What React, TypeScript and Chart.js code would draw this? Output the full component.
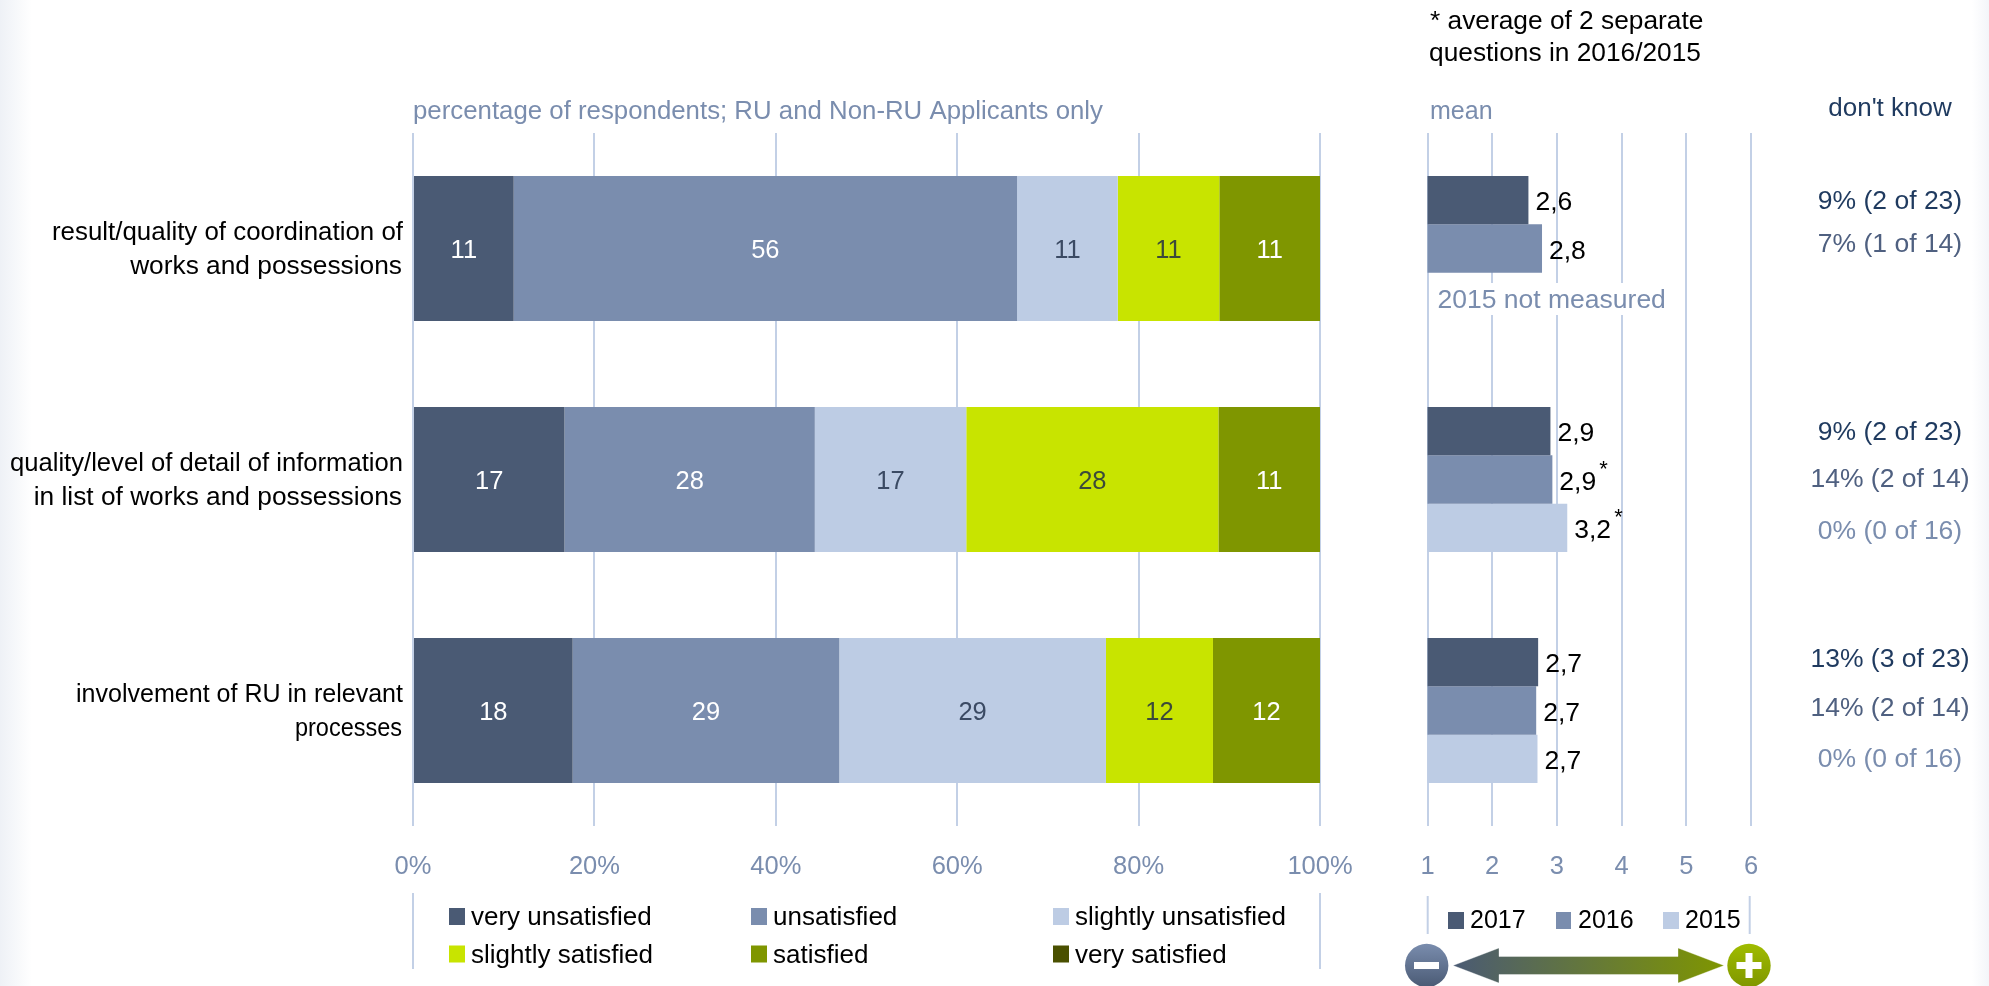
import React, { useEffect, useRef } from "react";
import { Chart, registerables } from "chart.js";

Chart.register(...registerables);

const FONT = '"Liberation Sans", Arial, sans-serif';

const categories = [
  ["result/quality of coordination of", "works and possessions"],
  ["quality/level of detail of information", "in list of works and possessions"],
  ["involvement of RU in relevant", "processes"],
];

const veryUnsatisfied = [11.1, 16.7, 17.6];
const unsatisfied = [55.5, 27.6, 29.4];
const slightlyUnsatisfied = [11.1, 16.7, 29.4];
const slightlySatisfied = [11.2, 27.8, 11.8];
const satisfied = [11.1, 11.2, 11.8];
const verySatisfied = [0, 0, 0];

const mean2017 = [2.56, 2.9, 2.71];
const mean2016 = [2.77, 2.93, 2.68];
const mean2015 = [null, 3.16, 2.7];
const meanLabels2017 = ["2,6", "2,9", "2,7"];
const meanLabels2016 = ["2,8", "2,9*", "2,7"];
const meanLabels2015 = ["", "3,2*", "2,7"];

const dontKnow2017 = ["9% (2 of 23)", "9% (2 of 23)", "13% (3 of 23)"];
const dontKnow2016 = ["7% (1 of 14)", "14% (2 of 14)", "14% (2 of 14)"];
const dontKnow2015 = ["", "0% (0 of 16)", "0% (0 of 16)"];

const percentTicks = [0, 20, 40, 60, 80, 100];
const meanTicks = [1, 2, 3, 4, 5, 6];

const C_DARK = "#4a5a74";
const C_MID = "#7a8dae";
const C_LIGHT = "#bdcce4";
const C_LIME = "#c8e400";
const C_OLIVE = "#7f9600";
const C_DEEP = "#4a5000";
const C_GRID = "#c3d0e6";
const C_NAVY = "#1f3a5f";

const W = 1989;
const H = 986;

function text(ctx: any, s: string, x: number, y: number, opt: any = {}) {
  ctx.save();
  ctx.font = `${opt.size || 26}px ${FONT}`;
  ctx.fillStyle = opt.color || "#000";
  ctx.textAlign = opt.align || "left";
  ctx.textBaseline = "middle";
  if (opt.width) ctx.fillText(s, x, y, opt.width);
  else ctx.fillText(s, x, y);
  ctx.restore();
}

const labelFit = [
  [{ width: 351 }, { size: 26.3 }],
  [{ width: 393 }, { size: 26.3 }],
  [{ width: 327 }, { width: 107 }],
];

const leftDecor = {
  id: "leftDecor",
  afterDatasetsDraw(chart: any) {
    const ctx = chart.ctx;
    chart.data.datasets.forEach((ds: any, di: number) => {
      chart.getDatasetMeta(di).data.forEach((bar: any, i: number) => {
        const v = ds.data[i];
        if (!v) return;
        text(ctx, String(Math.round(v)), (bar.x + bar.base) / 2, bar.y + 2, {
          align: "center",
          color: ds.labelColor,
          size: 25.5,
        });
      });
    });
  },
  afterDraw(chart: any) {
    const ctx = chart.ctx;
    const y = chart.scales.y;
    categories.forEach((lines, i) => {
      const c = y.getPixelForValue(i);
      text(ctx, lines[0], 403, c - 16, { align: "right", ...labelFit[i][0] });
      text(ctx, lines[1], 402, c + 18, { align: "right", ...labelFit[i][1] });
    });
    text(ctx, "percentage of respondents; RU and Non-RU Applicants only", 413, 112, {
      color: C_MID,
      size: 26,
      width: 690,
    });
    ctx.strokeStyle = C_GRID;
    ctx.lineWidth = 2;
    [chart.scales.x.getPixelForValue(0), chart.scales.x.getPixelForValue(100)].forEach((px: number) => {
      ctx.beginPath();
      ctx.moveTo(px, 893);
      ctx.lineTo(px, 969);
      ctx.stroke();
    });
    const cols = [449, 751, 1053];
    const rows = [916.5, 954];
    chart.data.datasets.forEach((ds: any, i: number) => {
      const cx = cols[i % 3];
      const cy = rows[Math.floor(i / 3)];
      ctx.fillStyle = ds.backgroundColor;
      ctx.fillRect(cx, cy - 8.5, 16, 17);
      text(ctx, ds.label, cx + 22, cy + 1.5);
    });
  },
};

const rightDecor = {
  id: "rightDecor",
  afterDatasetsDraw(chart: any) {
    const ctx = chart.ctx;
    ctx.fillStyle = "#fff";
    ctx.fillRect(1437, 283, 234, 32);
    text(ctx, "2015 not measured", 1437.5, 301, { color: C_MID, size: 26.5 });
    chart.data.datasets.forEach((ds: any, di: number) => {
      chart.getDatasetMeta(di).data.forEach((bar: any, i: number) => {
        const raw = ds.valueLabels[i];
        if (!raw) return;
        const star = raw.endsWith("*");
        const s = star ? raw.slice(0, -1) : raw;
        text(ctx, s, bar.x + 7, bar.y + 3, { size: 26.5 });
        if (star) text(ctx, "*", bar.x + 47, bar.y - 10, { size: 22 });
      });
    });
  },
  afterDraw(chart: any) {
    const ctx = chart.ctx;
    const y = chart.scales.y;
    text(ctx, "mean", 1430, 112, { color: C_MID, size: 25 });
    text(ctx, "* average of 2 separate", 1430, 22, { size: 26.3 });
    text(ctx, "questions in 2016/2015", 1429, 54, { size: 26.3 });
    text(ctx, "don't know", 1890, 109, { color: C_NAVY, size: 26, align: "center" });
    const offsets = [
      [-47, -4, 50],
      [-47, 0, 52],
      [-51, -2, 49],
    ];
    categories.forEach((_, i) => {
      const c = y.getPixelForValue(i);
      const o = { size: 26.5, align: "center" };
      text(ctx, dontKnow2017[i], 1890, c + offsets[i][0], { ...o, color: C_NAVY });
      text(ctx, dontKnow2016[i], 1890, c + offsets[i][1], { ...o, color: "#4f6080" });
      if (dontKnow2015[i]) text(ctx, dontKnow2015[i], 1890, c + offsets[i][2], { ...o, color: C_MID });
    });

    // legend
    ctx.strokeStyle = C_GRID;
    ctx.lineWidth = 2;
    [1427.7, 1749.7].forEach((px) => {
      ctx.beginPath();
      ctx.moveTo(px, 896);
      ctx.lineTo(px, 934);
      ctx.stroke();
    });
    const cols = [1448, 1556, 1663];
    chart.data.datasets.forEach((ds: any, i: number) => {
      ctx.fillStyle = ds.backgroundColor;
      ctx.fillRect(cols[i], 912, i === 1 ? 15 : 16, 17);
      text(ctx, ds.label, cols[i] + 22, 921, { size: 25 });
    });

    // direction arrow
    const my = 965.5;
    const grad = ctx.createLinearGradient(1453, 0, 1724, 0);
    grad.addColorStop(0, C_DARK);
    grad.addColorStop(1, C_OLIVE);
    ctx.fillStyle = grad;
    ctx.strokeStyle = "rgba(255,255,255,0.35)";
    ctx.lineWidth = 1;
    ctx.beginPath();
    ctx.moveTo(1453, my);
    ctx.lineTo(1499, my - 17.5);
    ctx.lineTo(1499, my - 9);
    ctx.lineTo(1678, my - 9);
    ctx.lineTo(1678, my - 17.5);
    ctx.lineTo(1724, my);
    ctx.lineTo(1678, my + 17.5);
    ctx.lineTo(1678, my + 9);
    ctx.lineTo(1499, my + 9);
    ctx.lineTo(1499, my + 17.5);
    ctx.closePath();
    ctx.fill();
    ctx.stroke();

    const circle = (cx: number, top: string, bottom: string) => {
      const g = ctx.createLinearGradient(0, my - 22, 0, my + 22);
      g.addColorStop(0, top);
      g.addColorStop(1, bottom);
      ctx.fillStyle = g;
      ctx.beginPath();
      ctx.arc(cx, my, 21.7, 0, Math.PI * 2);
      ctx.fill();
    };
    circle(1426.7, C_MID, C_DARK);
    ctx.fillStyle = "#fff";
    ctx.fillRect(1414, my - 3.5, 25, 7);
    circle(1749, "#a0bc00", C_OLIVE);
    ctx.fillStyle = "#fff";
    ctx.fillRect(1736.5, my - 3.5, 25, 7);
    ctx.fillRect(1745.5, my - 12.5, 7, 25);
  },
};

function baseOptions(extra: any) {
  return {
    responsive: false,
    animation: false,
    indexAxis: "y",
    events: [],
    plugins: { legend: { display: false }, tooltip: { enabled: false } },
    ...extra,
  };
}

export default function App() {
  const leftRef = useRef<HTMLCanvasElement>(null);
  const rightRef = useRef<HTMLCanvasElement>(null);

  useEffect(() => {
    document.body.style.margin = "0";
    const seg = { barPercentage: 1, categoryPercentage: 145 / 231, stack: "a" };
    const left = new Chart(leftRef.current!, {
      type: "bar",
      plugins: [leftDecor],
      data: {
        labels: categories.map((c) => c.join(" ")),
        datasets: [
          { ...seg, label: "very unsatisfied", data: veryUnsatisfied, backgroundColor: C_DARK, labelColor: "#fff" },
          { ...seg, label: "unsatisfied", data: unsatisfied, backgroundColor: C_MID, labelColor: "#fff" },
          { ...seg, label: "slightly unsatisfied", data: slightlyUnsatisfied, backgroundColor: C_LIGHT, labelColor: "#3b4a63" },
          { ...seg, label: "slightly satisfied", data: slightlySatisfied, backgroundColor: C_LIME, labelColor: "#3b4a3a" },
          { ...seg, label: "satisfied", data: satisfied, backgroundColor: C_OLIVE, labelColor: "#fff" },
          { ...seg, label: "very satisfied", data: verySatisfied, backgroundColor: C_DEEP, labelColor: "#fff" },
        ] as any,
      },
      options: baseOptions({
        layout: { padding: { left: 413, right: W - 1320, top: 133, bottom: 0 } },
        scales: {
          x: {
            stacked: true,
            min: 0,
            max: 100,
            afterBuildTicks: (s: any) => {
              s.ticks = percentTicks.map((value) => ({ value }));
            },
            grid: { color: C_GRID, lineWidth: 2, drawTicks: false },
            border: { display: false },
            ticks: { color: C_MID, padding: 26, maxRotation: 0, font: { family: FONT, size: 25.5 }, callback: (v: any) => `${v}%` },
            afterFit: (s: any) => {
              s.height = H - 826;
            },
          },
          y: { stacked: true, display: false },
        },
      }) as any,
    });

    const group = { barPercentage: 1, categoryPercentage: 145 / 231 };
    const right = new Chart(rightRef.current!, {
      type: "bar",
      plugins: [rightDecor],
      data: {
        labels: categories.map((c) => c.join(" ")),
        datasets: [
          { ...group, label: "2017", data: mean2017, backgroundColor: C_DARK, valueLabels: meanLabels2017 },
          { ...group, label: "2016", data: mean2016, backgroundColor: C_MID, valueLabels: meanLabels2016 },
          { ...group, label: "2015", data: mean2015, backgroundColor: C_LIGHT, valueLabels: meanLabels2015 },
        ] as any,
      },
      options: baseOptions({
        layout: { padding: { left: 1427.5, right: W - 1751, top: 133, bottom: 0 } },
        scales: {
          x: {
            min: 1,
            max: 6,
            afterBuildTicks: (s: any) => {
              s.ticks = meanTicks.map((value) => ({ value }));
            },
            grid: { color: C_GRID, lineWidth: 2, drawTicks: false },
            border: { display: false },
            ticks: { color: C_MID, padding: 26, maxRotation: 0, font: { family: FONT, size: 25.5 } },
            afterFit: (s: any) => {
              s.height = H - 826;
            },
          },
          y: { display: false },
        },
      }) as any,
    });

    return () => {
      left.destroy();
      right.destroy();
    };
  }, []);

  const canvasStyle: React.CSSProperties = { position: "absolute", left: 0, top: 0, width: W, height: H };
  return (
    <div
      style={{
        position: "absolute",
        left: 0,
        top: 0,
        width: W,
        height: H,
        overflow: "hidden",
        background:
          "linear-gradient(90deg, #eef1f6 0px, #ffffff 32px, #ffffff 1972px, #f3f5f9 1989px)",
      }}
    >
      <canvas ref={leftRef} width={W} height={H} style={canvasStyle} />
      <canvas ref={rightRef} width={W} height={H} style={canvasStyle} />
    </div>
  );
}
